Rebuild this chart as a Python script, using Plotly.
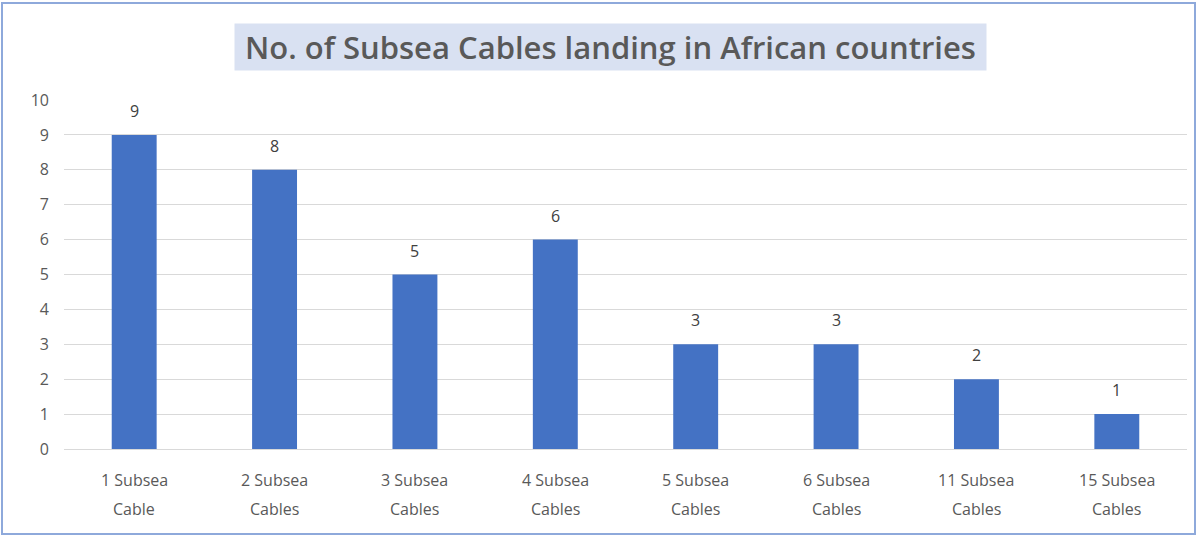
import plotly.graph_objects as go

categories = ["1 Subsea Cable", "2 Subsea Cables", "3 Subsea Cables", "4 Subsea Cables",
              "5 Subsea Cables", "6 Subsea Cables", "11 Subsea Cables", "15 Subsea Cables"]
label_top = ["1 Subsea", "2 Subsea", "3 Subsea", "4 Subsea", "5 Subsea", "6 Subsea", "11 Subsea", "15 Subsea"]
label_bottom = ["Cable", "Cables", "Cables", "Cables", "Cables", "Cables", "Cables", "Cables"]
countries = [9, 8, 5, 6, 3, 3, 2, 1]
y_ticks = list(range(0, 11))

W, H = 1197, 537
L, R, T, B = 64, 10, 100, 88
FONT = "Open Sans"

fig = go.Figure(go.Bar(
    x=categories, y=countries,
    marker=dict(color="#4472C4", line=dict(width=0)),
    width=0.32,
))

annotations = [dict(
    text="&nbsp;No. of Subsea Cables landing in African countries&nbsp;",
    xref="paper", yref="paper", x=(610 - L) / (W - L - R), y=1 + (T - 47) / (H - T - B),
    xanchor="center", yanchor="middle", showarrow=False,
    font=dict(family=FONT, size=31, color="#595959", weight=600),
    bgcolor="#D9E1F2", borderpad=2,
)]

# value labels above each bar
for cat, v in zip(categories, countries):
    annotations.append(dict(x=cat, y=v, xref="x", yref="y", text=str(v), showarrow=False,
                            yshift=24, font=dict(family=FONT, size=16, color="#404040")))

# two-line category labels under the axis
for cat, top, bottom in zip(categories, label_top, label_bottom):
    annotations.append(dict(x=cat, y=0, xref="x", yref="y", text=top, showarrow=False,
                            yshift=-31, font=dict(family=FONT, size=16, color="#595959")))
    annotations.append(dict(x=cat, y=0, xref="x", yref="y", text=bottom, showarrow=False,
                            yshift=-60, font=dict(family=FONT, size=16, color="#595959")))

fig.update_layout(
    width=W, height=H,
    margin=dict(l=L, r=R, t=T, b=B),
    paper_bgcolor="white", plot_bgcolor="white",
    showlegend=False,
    font=dict(family=FONT, color="#595959"),
    xaxis=dict(showgrid=False, showline=True, linecolor="#d9d9d9", linewidth=1,
               showticklabels=False, ticks=""),
    yaxis=dict(range=[0, 10], tickvals=y_ticks, showgrid=True, gridcolor="#d9d9d9",
               gridwidth=1, zeroline=False, showline=False,
               tickfont=dict(family=FONT, size=16, color="#595959"), ticks="", ticklabelstandoff=14),
    annotations=annotations,
    shapes=[dict(type="rect", xref="paper", yref="paper",
                 x0=-(L - 2) / (W - L - R), x1=1 + (R - 2) / (W - L - R),
                 y0=-(B - 3) / (H - T - B), y1=1 + (T - 3) / (H - T - B),
                 line=dict(color="#8EA9DB", width=2), layer="below")],
)

fig.write_html("out.html")
